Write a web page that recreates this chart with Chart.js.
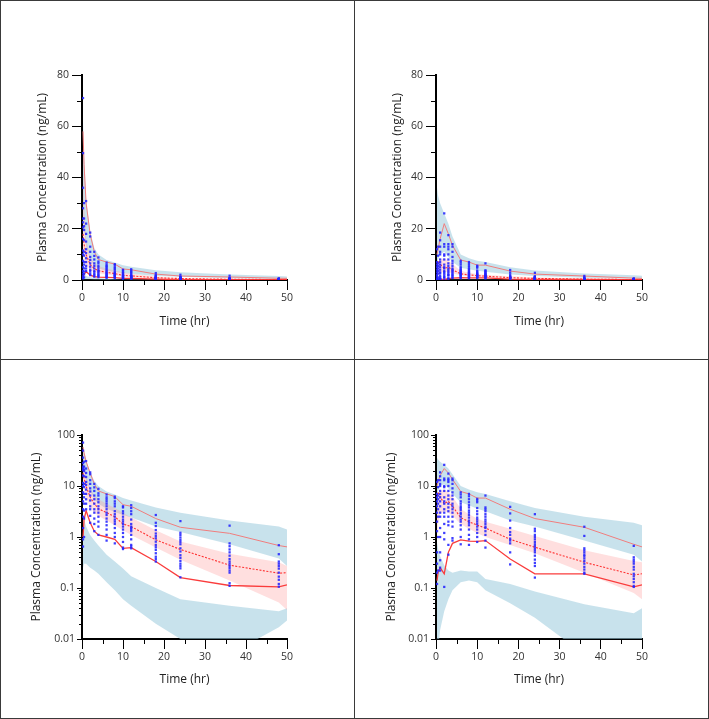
<!DOCTYPE html>
<html><head><meta charset="utf-8">
<script src="https://cdn.jsdelivr.net/npm/chart.js@4.4.1/dist/chart.umd.min.js"></script>
<style>
html,body{margin:0;padding:0;background:#fff;}
#wrap{position:relative;width:709px;height:719px;overflow:hidden;background:#fff;}
.pan{position:absolute;width:354px;height:359px;}
.ln{position:absolute;background:#3a3a3a;}
</style></head><body>
<div id="wrap">
  <div class="pan" style="left:0;top:0"><canvas id="c0" width="354" height="359"></canvas></div>
  <div class="pan" style="left:355px;top:0"><canvas id="c1" width="354" height="359"></canvas></div>
  <div class="pan" style="left:0;top:360px"><canvas id="c2" width="354" height="359"></canvas></div>
  <div class="pan" style="left:355px;top:360px"><canvas id="c3" width="354" height="359"></canvas></div>
  <div class="ln" style="left:0;top:0;width:709px;height:1px"></div>
  <div class="ln" style="left:0;top:718px;width:709px;height:1px"></div>
  <div class="ln" style="left:0;top:0;width:1px;height:719px"></div>
  <div class="ln" style="left:708px;top:0;width:1px;height:719px"></div>
  <div class="ln" style="left:354px;top:0;width:1px;height:719px"></div>
  <div class="ln" style="left:0;top:359px;width:709px;height:1px"></div>
</div>
<script>
// ---------- tick labels ----------
const xTicks = [0, 10, 20, 30, 40, 50];
const xMinorTicks = [5, 15, 25, 35, 45];
const yLinTicks = [0, 20, 40, 60, 80];
const yLinMinorTicks = [10, 30, 50, 70];
const yLogTicks = [0.01, 0.1, 1, 10, 100];

// ---------- bin times for percentile lines / CI bands ----------
const binTimes = [0.25, 0.5, 1, 2, 3, 4, 6, 8, 10, 12, 18, 24, 36, 48, 50];

// ---------- left dataset ----------
const leftP95 = [58, 45, 30, 17.8, 11, 8, 7, 6.2, 4.3, 4.0, 2.3, 1.55, 1.18, 0.68, 0.64];
const leftP50 = [18, 14, 10, 6, 4.5, 3.6, 3.0, 2.5, 1.8, 1.6, 0.88, 0.57, 0.28, 0.195, 0.2];
const leftP05 = [1.0, 2.2, 3.3, 1.9, 1.3, 1.1, 1.0, 0.9, 0.6, 0.62, 0.33, 0.16, 0.112, 0.105, 0.115];
const leftCI95lo = [25, 20, 13, 8, 5.5, 4.5, 3.6, 3.1, 2.7, 2.4, 1.6, 1.25, 0.72, 0.38, 0.27];
const leftCI95hi = [62, 50, 32, 19, 12.5, 10, 7.8, 6.8, 5.8, 5.2, 3.8, 3.0, 2.1, 1.6, 1.4];
const leftCI50lo = [10, 8, 6, 3.9, 3.0, 2.6, 2.1, 1.7, 1.35, 1.1, 0.62, 0.36, 0.14, 0.052, 0.037];
const leftCI50hi = [45, 30, 16, 9, 6.5, 5.5, 4.5, 3.7, 3.0, 2.4, 1.35, 0.82, 0.47, 0.32, 0.27];
const leftCI05lo = [0.25, 0.3, 0.3, 0.25, 0.22, 0.19, 0.13, 0.09, 0.06, 0.045, 0.02, 0.01, 0.005, 0.017, 0.023];
const leftCI05hi = [2.5, 2.2, 1.6, 1.1, 0.85, 0.68, 0.45, 0.33, 0.24, 0.17, 0.1, 0.06, 0.045, 0.035, 0.04];
const leftObsTimes = [0.25, 0.5, 1, 2, 3, 4, 6, 8, 10, 12, 18, 24, 36, 48];
const leftObsValues = [
  [71, 49.5, 36, 28, 24, 22.5, 20.5, 16, 11.5, 10, 7.5, 5, 3.5, 2.5, 1.5, 0.9, 0.65],
  [30, 24, 21, 19.5, 15.5, 11, 9.5, 7, 6, 4.5, 3.3, 2.3, 1.0],
  [30.8, 22, 18, 15, 12, 10.5, 8.5, 7, 5.5, 4.5, 3.5],
  [18.5, 17, 13, 11, 9, 7.8, 6.5, 5.2, 4, 3.5, 2.6, 1.9],
  [11, 9.4, 8, 6.5, 5.5, 4.5, 3.5, 3, 2.3, 1.8, 1.3],
  [8.8, 7.2, 6.5, 5.5, 4.8, 4, 3.5, 3, 2.5, 2, 1.6, 1.1],
  [6.8, 6.0, 5.5, 5.0, 4.5, 4.0, 3.5, 3.0, 2.7, 2.3, 2.0, 1.7, 1.4, 1.1, 0.85],
  [6.2, 5.8, 5.0, 4.5, 4.0, 3.2, 2.8, 2.5, 2.2, 2.0, 1.8, 1.5, 1.2, 1.0, 0.75],
  [4.0, 3.8, 3.2, 2.9, 2.5, 2.2, 2.0, 1.8, 1.6, 1.4, 1.2, 1.0, 0.8, 0.62, 0.58],
  [4.2, 3.7, 3.2, 2.8, 2.2, 1.8, 1.6, 1.5, 1.4, 1.3, 1.1, 0.9, 0.7, 0.65, 0.6],
  [2.7, 1.9, 1.64, 1.37, 1.17, 1.04, 0.94, 0.81, 0.70, 0.63, 0.56, 0.48, 0.41, 0.37, 0.33],
  [2.05, 1.21, 1.1, 0.98, 0.88, 0.8, 0.72, 0.6, 0.52, 0.44, 0.39, 0.34, 0.3, 0.27, 0.243, 0.162],
  [1.67, 0.75, 0.66, 0.57, 0.5, 0.43, 0.37, 0.33, 0.3, 0.27, 0.245, 0.22, 0.2, 0.124, 0.11],
  [0.69, 0.46, 0.33, 0.3, 0.27, 0.24, 0.2, 0.167, 0.145, 0.12, 0.106]
];

// ---------- right dataset ----------
const rightP95 = [10, 12, 16, 22, 18, 13.5, 7.8, 7.0, 5.8, 5.8, 3.5, 2.3, 1.55, 0.72, 0.64];
const rightP50 = [6.5, 7.5, 6.2, 4.5, 5.0, 4.0, 2.4, 2.0, 1.7, 1.5, 0.9, 0.63, 0.32, 0.18, 0.19];
const rightP05 = [0.14, 0.2, 0.25, 0.19, 0.5, 0.75, 0.88, 0.83, 0.82, 0.85, 0.37, 0.19, 0.19, 0.105, 0.115];
const rightCI95lo = [6, 8, 10, 11, 9, 7, 4.8, 4.2, 3.6, 3.2, 2.1, 1.6, 0.85, 0.45, 0.33];
const rightCI95hi = [36, 33, 30, 26, 22, 17, 10, 8.5, 7.5, 7, 5, 3.7, 2.5, 1.9, 1.7];
const rightCI50lo = [1.0, 1.8, 2.8, 3.2, 3.0, 2.6, 1.8, 1.45, 1.2, 1.0, 0.7, 0.48, 0.2, 0.08, 0.06];
const rightCI50hi = [4.5, 6.5, 8, 8.5, 7.5, 6.2, 3.6, 2.8, 2.3, 2.0, 1.45, 1.05, 0.55, 0.34, 0.32];
const rightCI05lo = [0.003, 0.006, 0.015, 0.035, 0.06, 0.09, 0.13, 0.14, 0.13, 0.09, 0.05, 0.026, 0.005, 0.005, 0.005];
const rightCI05hi = [0.8, 0.6, 0.42, 0.28, 0.22, 0.2, 0.22, 0.21, 0.21, 0.15, 0.12, 0.085, 0.048, 0.032, 0.04];
const rightObsTimes = [0.25, 0.5, 1, 2, 3, 4, 6, 8, 10, 12, 18, 24, 36, 48];
const rightObsValues = [
  [12, 7, 6, 5, 4, 3, 2, 1.3, 0.5, 0.3, 0.2, 0.12],
  [13, 9.5, 6.5, 5.5, 4.5, 3.5, 2.5, 1.0, 0.22],
  [18.5, 15.5, 13, 11, 10, 8, 7, 6, 5, 4, 3, 2.5, 1.5, 1.0, 0.5, 0.35, 0.25, 0.22],
  [26, 14, 13, 10, 9.5, 8, 6, 5, 4.5, 3.5, 3, 2.5, 1.8, 1.2, 0.9, 0.105],
  [17.5, 14, 13, 12, 10, 8, 6.5, 5.5, 4.5, 3.8, 3.2, 2.5, 2.0, 1.7, 0.7, 0.45],
  [14, 13, 11, 9, 7.5, 6.5, 5.5, 4.5, 4, 3.5, 3, 2.5, 2, 1.6, 0.95, 0.85],
  [7.5, 6.8, 6, 5, 4.5, 4, 3.7, 3.4, 3, 2.8, 2.5, 2.2, 2, 1.7, 1.4, 1.0, 0.72],
  [7, 6.3, 5.5, 4.8, 4.2, 3.8, 3.3, 3, 2.7, 2.4, 2.1, 1.9, 1.7, 1.4, 1.1, 0.9, 0.7],
  [5.6, 5.2, 4.8, 3.7, 3.2, 2.8, 2.4, 2.2, 2.0, 1.8, 1.6, 1.4, 1.2, 1.0, 0.8],
  [6.5, 3.8, 3.5, 3.2, 2.8, 2.5, 2.2, 2.0, 1.8, 1.6, 1.5, 1.3, 1.1, 0.85, 0.62],
  [3.9, 2.9, 2.1, 1.5, 1.25, 1.1, 0.93, 0.85, 0.75, 0.5, 0.29],
  [2.8, 1.45, 1.3, 1.1, 1.0, 0.9, 0.8, 0.72, 0.66, 0.6, 0.55, 0.5, 0.43, 0.36, 0.31, 0.27, 0.16],
  [1.59, 1.05, 0.6, 0.55, 0.5, 0.45, 0.42, 0.38, 0.34, 0.3, 0.26, 0.23, 0.2, 0.19],
  [0.67, 0.4, 0.36, 0.33, 0.3, 0.26, 0.23, 0.19, 0.17, 0.15, 0.13, 0.11, 0.105]
];

// ---------- styles ----------
const FONT = "'Open Sans', 'Noto Sans', sans-serif";
const C_BAND = 'rgba(160,205,222,0.58)';
const C_MED = 'rgba(255,150,150,0.3)';
const C_P95 = 'rgb(240,125,125)';
const C_P50 = 'rgb(255,50,50)';
const C_P05 = 'rgb(250,60,60)';
const C_PT = 'rgba(35,35,255,0.88)';

const pts = (xs, ys) => xs.map((x, i) => ({x, y: ys[i]}));

function buildDatasets(d) {
  const obs = [];
  d.obsTimes.forEach((t, i) => d.obsValues[i].forEach(v => obs.push({x: t, y: v})));
  const band = (arr) => ({type: 'line', data: pts(binTimes, arr), borderWidth: 0, pointRadius: 0, tension: 0, clip: 0});
  return [
    {type: 'scatter', data: obs, pointStyle: 'rect', pointRadius: 1.6, backgroundColor: C_PT, borderWidth: 0, order: 0, clip: 0},
    {type: 'line', data: pts(binTimes, d.p95), borderColor: C_P95, borderWidth: 1, pointRadius: 0, tension: 0, fill: false, order: 1, clip: 0},
    {type: 'line', data: pts(binTimes, d.p50), borderColor: C_P50, borderWidth: 1.1, borderDash: [2, 1.5], pointRadius: 0, tension: 0, fill: false, order: 1, clip: 0},
    {type: 'line', data: pts(binTimes, d.p05), borderColor: C_P05, borderWidth: 1.3, pointRadius: 0, tension: 0, fill: false, order: 1, clip: 0},
    Object.assign(band(d.ci95hi), {fill: {target: 5}, backgroundColor: C_BAND, order: 3}),
    Object.assign(band(d.ci95lo), {fill: false, order: 3}),
    Object.assign(band(d.ci05hi), {fill: {target: 7}, backgroundColor: C_BAND, order: 3}),
    Object.assign(band(d.ci05lo), {fill: false, order: 3}),
    Object.assign(band(d.ci50hi), {fill: {target: 9}, backgroundColor: C_MED, order: 2}),
    Object.assign(band(d.ci50lo), {fill: false, order: 2})
  ];
}

const minorTickPlugin = {
  id: 'minorTicks',
  afterDraw(chart, args, o) {
    const {ctx, chartArea} = chart;
    const xs = chart.scales.x, ys = chart.scales.y;
    ctx.save();
    ctx.strokeStyle = '#000';
    ctx.lineWidth = 1;
    ctx.beginPath();
    xMinorTicks.forEach(v => {
      const px = Math.round(xs.getPixelForValue(v)) + 0.5;
      ctx.moveTo(px, chartArea.bottom); ctx.lineTo(px, chartArea.bottom + o.xLen);
    });
    o.yMinor.forEach(v => {
      const py = Math.round(ys.getPixelForValue(v)) + 0.5;
      ctx.moveTo(chartArea.left, py); ctx.lineTo(chartArea.left - o.yLen, py);
    });
    ctx.stroke();
    ctx.restore();
  }
};

const logMinor = [];
[0.01, 0.1, 1, 10].forEach(d => { for (let k = 2; k <= 9; k++) logMinor.push(d * k); });

function makeChart(id, d, log, geo) {
  const yScale = log ? {
    type: 'logarithmic', min: 0.01, max: 100,
    afterBuildTicks: s => { s.ticks = yLogTicks.map(v => ({value: v})); },
    ticks: {callback: v => String(v), font: {family: FONT, size: 10.5}, color: '#333', padding: 2},
    grid: {drawOnChartArea: false, drawTicks: true, tickLength: 5, tickColor: '#000', tickWidth: 1},
  } : {
    type: 'linear', min: 0, max: 80,
    afterBuildTicks: s => { s.ticks = yLinTicks.map(v => ({value: v})); },
    ticks: {font: {family: FONT, size: 10.5}, color: '#333', padding: 3},
    grid: {drawOnChartArea: false, drawTicks: true, tickLength: 10, tickColor: '#000', tickWidth: 1},
  };
  Object.assign(yScale, {
    border: {display: true, color: '#000', width: 2},
    title: {display: true, text: 'Plasma Concentration (ng/mL)', font: {family: FONT, size: 12}, color: '#222', padding: {top: geo.yTitlePad, bottom: 0}},
    afterFit: s => { s.width = geo.yWidth; }
  });
  return new Chart(document.getElementById(id), {
    data: {datasets: buildDatasets(d)},
    options: {
      responsive: false, animation: false, events: [],
      layout: {padding: {left: 0, top: geo.top, right: 354 - geo.right, bottom: 0}},
      plugins: {legend: {display: false}, tooltip: {enabled: false},
        minorTicks: {xLen: 5, yLen: log ? 3 : 5, yMinor: log ? logMinor : yLinMinorTicks}},
      scales: {
        x: {
          type: 'linear', min: 0, max: 50,
          afterBuildTicks: s => { s.ticks = xTicks.map(v => ({value: v})); },
          ticks: {font: {family: FONT, size: 10.5}, color: '#333', padding: 2, maxRotation: 0},
          grid: {drawOnChartArea: false, drawTicks: true, tickLength: 10, tickColor: '#000', tickWidth: 1},
          border: {display: true, color: '#000', width: 2},
          title: {display: true, text: 'Time (hr)', font: {family: FONT, size: 12}, color: '#222', padding: {top: 0, bottom: geo.xTitlePad}},
          afterFit: s => { s.height = 359 - geo.bottom; }
        },
        y: yScale
      }
    },
    plugins: [minorTickPlugin]
  });
}

const leftData = {p95: leftP95, p50: leftP50, p05: leftP05, ci95lo: leftCI95lo, ci95hi: leftCI95hi,
  ci50lo: leftCI50lo, ci50hi: leftCI50hi, ci05lo: leftCI05lo, ci05hi: leftCI05hi, obsTimes: leftObsTimes, obsValues: leftObsValues};
const rightData = {p95: rightP95, p50: rightP50, p05: rightP05, ci95lo: rightCI95lo, ci95hi: rightCI95hi,
  ci50lo: rightCI50lo, ci50hi: rightCI50hi, ci05lo: rightCI05lo, ci05hi: rightCI05hi, obsTimes: rightObsTimes, obsValues: rightObsValues};

makeChart('c0', leftData, false, {yWidth: 82, top: 75, right: 287, bottom: 280, yTitlePad: 35.8, xTitlePad: 29.8});
makeChart('c1', rightData, false, {yWidth: 81, top: 75, right: 287, bottom: 280, yTitlePad: 35.3, xTitlePad: 29.8});
makeChart('c2', leftData, true, {yWidth: 82, top: 75, right: 287, bottom: 279, yTitlePad: 29.8, xTitlePad: 31.8});
makeChart('c3', rightData, true, {yWidth: 81, top: 75, right: 287, bottom: 279, yTitlePad: 29.5, xTitlePad: 31.8});
</script>
</body></html>
